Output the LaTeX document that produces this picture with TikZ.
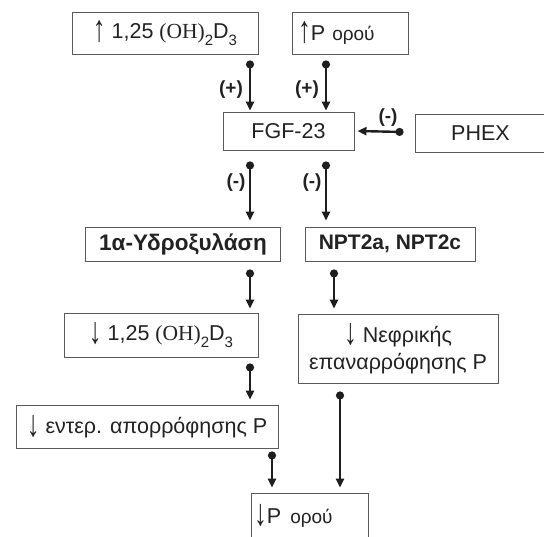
\documentclass[tikz,border=0pt]{standalone}
\usepackage{fontspec}
\setmainfont{Liberation Sans}
\newfontfamily\serifpart{Liberation Serif}
\usetikzlibrary{arrows.meta}

\definecolor{boxgray}{HTML}{5A5A5A}
\definecolor{arrowdark}{HTML}{1E1E1E}
\definecolor{textdark}{HTML}{222222}

% lowered index used in (OH)2D3
\newcommand{\lowidx}[1]{\raisebox{-0.3em}{\fontsize{15}{15}\selectfont #1}}
\newcommand{\smallword}[1]{{\fontsize{19}{19}\selectfont #1}}
% tall thin arrow glyph in front of the texts
\newcommand{\updown}[1]{\raisebox{-0.12em}{\scalebox{0.85}[1.25]{\fontsize{30}{30}\selectfont #1}}}

\begin{document}
\begin{tikzpicture}[x=1pt,y=-1pt,
  box/.style={draw=boxgray, line width=0.9pt, inner sep=0pt, text=textdark,
              font=\fontsize{21.5}{27}\selectfont, align=center},
  leftbox/.style={box, align=left},
  boldbox/.style={box, font=\bfseries\fontsize{21}{26}\selectfont},
  conn/.style={draw=arrowdark, line width=2.4pt,
               {Circle[length=8pt]}-{Triangle[length=9pt,width=8pt]}},
  sign/.style={font=\bfseries\fontsize{19}{19}\selectfont, text=textdark, inner sep=0pt}
]
\useasboundingbox (0,0) rectangle (544,536);

% boxes
\node[box, minimum width=186pt, minimum height=42pt] (vd) at (165,33)
  {\updown{↑} 1,25 {\serifpart (OH)}\lowidx{2}D\lowidx{3}};
\node[leftbox, minimum width=116pt, minimum height=42pt, text width=104pt] (pu) at (350,33)
  {\updown{↑}P \smallword{ορού}};
\node[box, minimum width=131pt, minimum height=38pt] (fgf) at (288.5,131) {FGF-23};
\node[box, minimum width=131pt, minimum height=38pt] (phex) at (480.5,133) {PHEX};
\node[boldbox, minimum width=195pt, minimum height=34pt, font=\bfseries\fontsize{22.5}{26}\selectfont]
  (hyd) at (183,244) {1α-Υδροξυλάση};
\node[boldbox, minimum width=170pt, minimum height=34pt] (npt) at (390,244) {NPT2a, NPT2c};
\node[box, minimum width=194pt, minimum height=44pt] (vdd) at (161,335)
  {\updown{↓} 1,25 {\serifpart (OH)}\lowidx{2}D\lowidx{3}};
\node[box, minimum width=200pt, minimum height=69pt] (nef) at (398,348.5)
  {\updown{↓} Νεφρικής\\επαναρρόφησης P};
\node[box, minimum width=262pt, minimum height=43pt] (ent) at (147,426.5)
  {\updown{↓} εντερ. απορρόφησης P};
\node[leftbox, minimum width=117pt, minimum height=46pt, text width=111pt] (pd) at (309.5,516)
  {\updown{↓}P \hspace{2pt}\smallword{ορού}};

% connectors
\draw[conn] ([xshift=85pt,yshift=-6pt]vd.south) -- ([xshift=-38.5pt,yshift=1pt]fgf.north);
\draw[conn] ([xshift=-24pt,yshift=-6pt]pu.south) -- ([xshift=37.5pt,yshift=1pt]fgf.north);
\draw[conn] ([xshift=-11pt,yshift=1pt]phex.west) -- ([xshift=3pt,yshift=0pt]fgf.east);
\draw[conn] ([xshift=-38.5pt,yshift=-11pt]fgf.south) -- ([xshift=67pt,yshift=6pt]hyd.north);
\draw[conn] ([xshift=37.5pt,yshift=-11pt]fgf.south) -- ([xshift=-64pt,yshift=6pt]npt.north);
\draw[conn] ([xshift=67pt,yshift=-8pt]hyd.south) -- ([xshift=89pt,yshift=4pt]vdd.north);
\draw[conn] ([xshift=-56pt,yshift=-8pt]npt.south) -- ([xshift=-64pt,yshift=5pt]nef.north);
\draw[conn] ([xshift=89pt,yshift=-6pt]vdd.south) -- ([xshift=103pt,yshift=5pt]ent.north);
\draw[conn] ([xshift=125pt,yshift=-3pt]ent.south) -- ([xshift=-37.5pt,yshift=5pt]pd.north);
\draw[conn] ([xshift=-58pt,yshift=-8pt]nef.south) -- ([xshift=30.5pt,yshift=5pt]pd.north);

% signs next to the connectors
\node[sign] (s1) at (231,90) {(+)};
\node[sign] (s2) at (307,90) {(+)};
\node[sign] (s3) at (388,118) {(-)};
\node[sign] (s4) at (236,183) {(-)};
\node[sign] (s5) at (312,183) {(-)};
\end{tikzpicture}
\end{document}
